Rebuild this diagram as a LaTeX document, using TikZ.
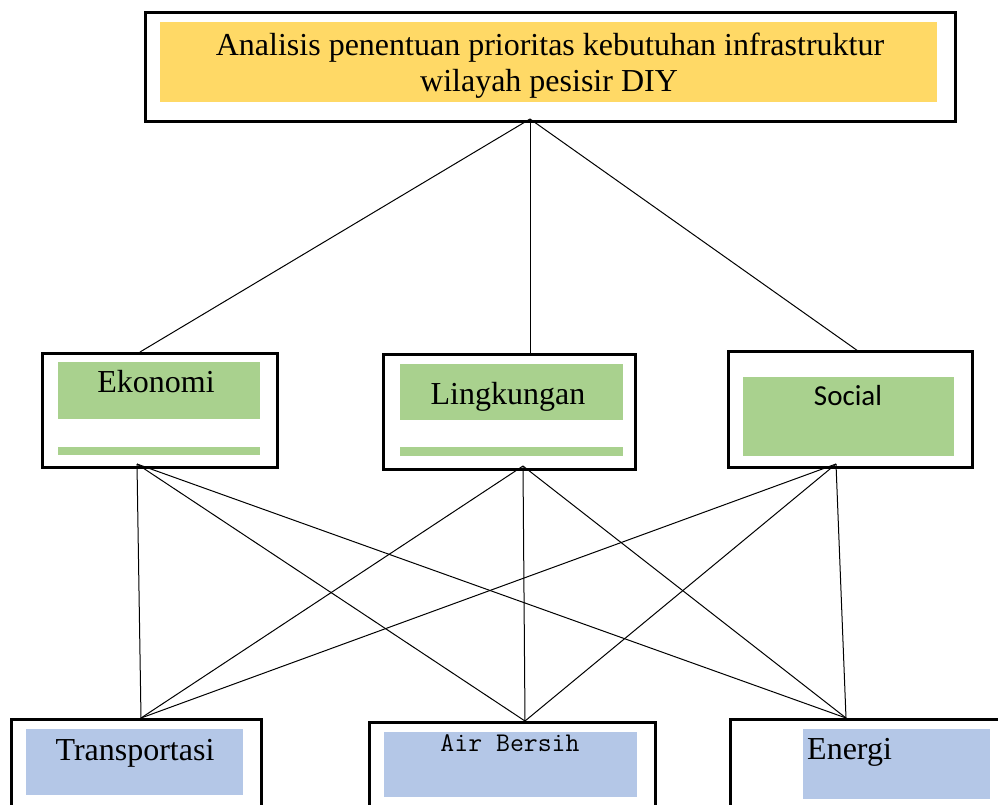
\documentclass[tikz,border=0pt]{standalone}
\usepackage{fontspec}
\setmainfont{Liberation Serif}
\newfontfamily\calibfont{Carlito}
\definecolor{goldfill}{HTML}{FFD966}
\definecolor{greenfill}{HTML}{A9D18E}
\definecolor{bluefill}{HTML}{B4C7E7}
\begin{document}
\begin{tikzpicture}[x=1pt,y=-1pt,
  frame/.style={draw=black, line width=2.6pt, fill=white, inner sep=0pt, anchor=north west},
  panel/.style={draw=none, inner sep=0pt, anchor=north west},
  label/.style={inner sep=0pt, anchor=base},
  serifbig/.style={font=\fontsize{32}{36}\selectfont},
  link/.style={draw=black, line width=1pt}]
\path[use as bounding box] (0,0) rectangle (998,804);
\clip (0,0) rectangle (998,804);

% goal
\node[frame, minimum width=810, minimum height=109] (goal) at (144,11) {};
\node[panel, fill=goldfill, minimum width=777, minimum height=80] (goalfill) at (160,22) {};
\node[label, serifbig] (goaltxt1) at (550,55) {Analisis penentuan prioritas kebutuhan infrastruktur};
\node[label, serifbig] (goaltxt2) at (549,91) {wilayah pesisir DIY};

% criteria
\node[frame, minimum width=235, minimum height=114] (eko) at (41,352) {};
\node[panel, fill=greenfill, minimum width=202, minimum height=57] (ekofill) at (58,362) {};
\node[panel, fill=greenfill, minimum width=202, minimum height=8] (ekostrip) at (58,447) {};
\node[label, serifbig] (ekotxt) at (156,392) {Ekonomi};

\node[frame, minimum width=252, minimum height=115] (ling) at (382,353) {};
\node[panel, fill=greenfill, minimum width=223, minimum height=56] (lingfill) at (400,364) {};
\node[panel, fill=greenfill, minimum width=223, minimum height=9] (lingstrip) at (400,447) {};
\node[label, serifbig] (lingtxt) at (508,404) {Lingkungan};

\node[frame, minimum width=244, minimum height=116] (soc) at (727,350) {};
\node[panel, fill=greenfill, minimum width=211, minimum height=79] (socfill) at (743,377) {};
\node[label, font=\calibfont\fontsize{29}{33}\selectfont] (soctxt) at (848,405) {Social};

% alternatives
\node[frame, minimum width=250, minimum height=110] (tra) at (10,718) {};
\node[panel, fill=bluefill, minimum width=217, minimum height=66] (trafill) at (26,729) {};
\node[label, serifbig] (tratxt) at (135,760) {Transportasi};

\node[frame, minimum width=286, minimum height=110] (air) at (368,721) {};
\node[panel, fill=bluefill, minimum width=253, minimum height=65] (airfill) at (384,732) {};
\node[label, font=\ttfamily\fontsize{27}{31}\selectfont] (airtxt) at (510,751) {Air Bersih};

\node[frame, minimum width=300, minimum height=110] (ene) at (729,718) {};
\node[panel, fill=bluefill, minimum width=187, minimum height=70] (enefill) at (803,729) {};
\node[label, serifbig, anchor=base west] (enetxt) at (807,759) {Energi};

% attachment points on the box borders
\coordinate (goalP) at (530,119);
\coordinate (ekoT) at (140,352);
\coordinate (lingT) at (530,353);
\coordinate (socT) at (858,351);
\coordinate (ekoB) at (137,464);
\coordinate (lingB) at (523,466);
\coordinate (socB) at (836,464);
\coordinate (traT) at (141,718);
\coordinate (airT) at (525,721);
\coordinate (eneT) at (846,718);

% hierarchy links
\draw[link] (goalP) -- (ekoT);
\draw[link] (goalP) -- (lingT);
\draw[link] (goalP) -- (socT);
\foreach \c in {ekoB,lingB,socB}{
  \draw[link] (\c) -- (traT);
  \draw[link] (\c) -- (airT);
  \draw[link] (\c) -- (eneT);
}
\end{tikzpicture}
\end{document}
